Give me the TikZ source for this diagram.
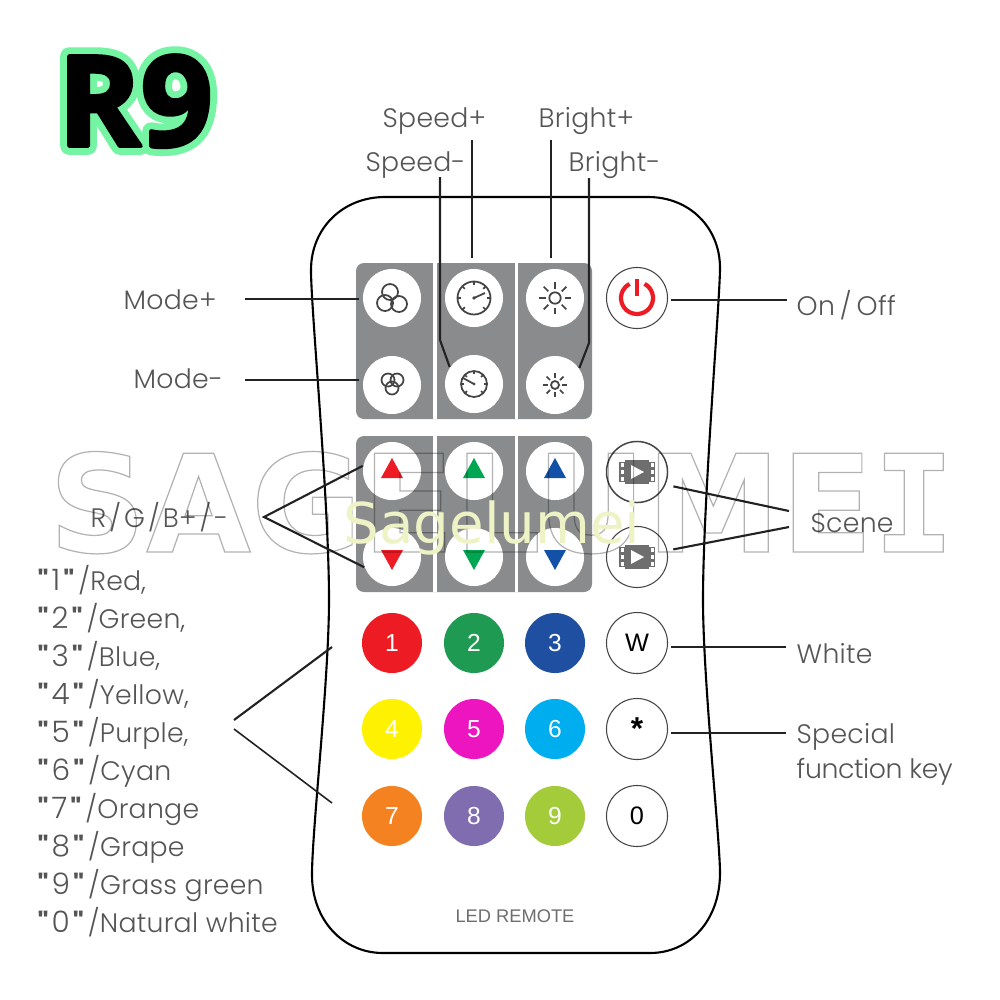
\documentclass[tikz,border=0pt]{standalone}
\usepackage{fontspec}
\setmainfont{Liberation Sans}
\newfontfamily\lblfont[LetterSpace=1]{Poppins Light}
\newfontfamily\quotefont{Poppins}
\newfontfamily\bigfont{Open Sans}
\newfontfamily\markfont{DejaVu Sans}
\newfontfamily\markmono{DejaVu Sans Mono}
\usetikzlibrary{calc}

\definecolor{panelgray}{HTML}{8A8B8D}
\definecolor{lblgray}{HTML}{555555}
\definecolor{wirecol}{HTML}{222222}
\definecolor{redkey}{HTML}{ED1C24}
\definecolor{greenkey}{HTML}{1F9A52}
\definecolor{bluekey}{HTML}{1E4FA0}
\definecolor{yellowkey}{HTML}{FFF200}
\definecolor{pinkkey}{HTML}{EC15C0}
\definecolor{cyankey}{HTML}{00ADEF}
\definecolor{orangekey}{HTML}{F58220}
\definecolor{purplekey}{HTML}{7F6DB0}
\definecolor{grasskey}{HTML}{A4CC3A}
\definecolor{trigreen}{HTML}{00A651}
\definecolor{triblue}{HTML}{1350A8}
\definecolor{iconcol}{HTML}{444444}
\definecolor{filmcol}{HTML}{6E6E6E}
\definecolor{sagecol}{HTML}{EEF3C6}

\newcommand{\strokedtext}[2]{\special{pdf:code #1}#2\special{pdf:code 0 Tr}}
\newcommand{\qkey}[2]{{\quotefont\bfseries"}\kern0.03cm{\fontsize{8.4}{10.81}\selectfont #1}\kern0.03cm{\quotefont\bfseries"}\kern0.04cm/#2}
\newcommand{\slashgap}{\kern0.03cm/\kern0.03cm}

\tikzset{
  btn/.style={circle, fill=white, inner sep=0pt, minimum size=0.58cm},
  ringbtn/.style={circle, fill=white, draw=iconcol, line width=0.3pt, inner sep=0pt, minimum size=0.61cm},
  numbtn/.style={circle, inner sep=0pt, minimum size=0.6cm, text=white, font=\fontsize{7}{8}\selectfont},
  wire/.style={draw=wirecol, line width=0.6pt},
  lbl/.style={anchor=base west, inner sep=0pt, text=lblgray, font=\lblfont\fontsize{7.6}{10.81}\selectfont},
  iconline/.style={draw=iconcol, line width=0.5pt},
}

\begin{document}
\begin{tikzpicture}[x=0.01cm, y=-0.01cm]
  \useasboundingbox (0,0) rectangle (1000,1000);
  \fill[white] (0,0) rectangle (1000,1000);

  % remote body
  \draw[black, line width=0.6pt] (385,197) -- (648,197)
    .. controls (690,197) and (720,228) .. (720,268)
    .. controls (720,300) and (703,500) .. (703,600)
    .. controls (703,680) and (720,840) .. (720,873)
    .. controls (720,920) and (690,953) .. (650,953) -- (383,953)
    .. controls (343,953) and (312,920) .. (312,875)
    .. controls (312,830) and (329,680) .. (329,600)
    .. controls (329,500) and (311,310) .. (311,270)
    .. controls (311,228) and (343,197) .. (385,197) -- cycle;

  % gray panels
  \foreach \ya/\yb in {263/419, 436/592} {
    \fill[panelgray, rounded corners=0.08cm] (356,\ya) rectangle (592,\yb);
    \fill[white] (433,\ya) rectangle (436.5,\yb);
    \fill[white] (514.5,\ya) rectangle (518,\yb);
  }

  \node[btn] (modeup) at (392,298) {};
  \node[btn] (speedup) at (474,298) {};
  \node[btn] (brightup) at (555,298) {};
  \node[btn] (modedown) at (392,385) {};
  \node[btn] (speeddown) at (474,384) {};
  \node[btn] (brightdown) at (555,385) {};
  \node[ringbtn] (power) at (637,298) {};
  \node[btn] (redup) at (392,471) {};
  \node[btn] (greenup) at (474,471) {};
  \node[btn] (blueup) at (555,471) {};
  \node[btn] (reddown) at (392,557) {};
  \node[btn] (greendown) at (474,557) {};
  \node[btn] (bluedown) at (555,557) {};
  \node[ringbtn, line width=0.42pt] (sceneup) at (637,472) {};
  \node[ringbtn] (scenedown) at (637,557) {};

  % number keys
  \foreach \nm/\cx/\cy/\col in {1/392/643/redkey, 2/474/643/greenkey, 3/555/643/bluekey,
      4/392/729/yellowkey, 5/474/729/pinkkey, 6/555/729/cyankey,
      7/392/816/orangekey, 8/474/816/purplekey, 9/555/816/grasskey}
    \node[numbtn, fill=\col] (key\nm) at (\cx,\cy) {\nm};
  \node[ringbtn, text=black, font=\fontsize{7.2}{8}\selectfont] (keyw) at (637,643) {W};
  \node[ringbtn, text=black, font=\bfseries\fontsize{9}{8}\selectfont] (keystar) at (637,729) {\raisebox{-0.06cm}{*}};
  \node[ringbtn, text=black, font=\fontsize{7.2}{8}\selectfont] (key0) at (637,816) {0};

  % mode icons
  \foreach \cx/\cy in {390/292, 385/303, 399/304}
    \draw[iconline] (\cx,\cy) circle[radius=8];
  \foreach \cx/\cy in {388/380, 397/380, 392/388}
    \draw[iconline] (\cx,\cy) circle[radius=6.5];

  % gauges
  \draw[iconline] (474,298) circle[radius=16.5];
  \foreach \a in {-135,-90,-45,0,45,135,180}
    \draw[iconline] ($(474,298)+(\a:13)$) -- ($(474,298)+(\a:16.5)$);
  \draw[iconline] (474,298) -- (485,293);
  \fill[iconcol] (474,298) circle[radius=1.8];
  \draw[iconline] (474,384) circle[radius=13];
  \foreach \a in {-135,-90,-45,0,45,135,180}
    \draw[iconline] ($(474,384)+(\a:10)$) -- ($(474,384)+(\a:13)$);
  \draw[iconline] (474,384) -- (463,378);
  \fill[iconcol] (474,384) circle[radius=1.5];

  % suns
  \draw[iconline] (555,298) circle[radius=5.7];
  \foreach \a in {0,45,...,315}
    \draw[iconline] ($(555,298)+(\a:9.5)$) -- ($(555,298)+(\a:16)$);
  \draw[iconline] (555,385) circle[radius=4];
  \foreach \a in {0,45,...,315}
    \draw[iconline] ($(555,385)+(\a:7)$) -- ($(555,385)+(\a:12)$);

  % power symbol
  \draw[redkey, line width=1.2pt] ($(637,298)+(-62:16)$) arc[start angle=-62, end angle=242, radius=16];
  \draw[redkey, line width=1.2pt] (637,279) -- (637,296);

  % triangles
  \foreach \cx/\col in {392/redkey, 474/trigreen, 555/triblue} {
    \fill[\col] (\cx,458) -- (\cx+11,478) -- (\cx-11,478) -- cycle;
    \fill[\col] (\cx,570) -- (\cx+11,550) -- (\cx-11,550) -- cycle;
  }

  % film icons
  \foreach \cy in {472,557} {
    \fill[filmcol] (625,\cy-12) rectangle (649,\cy+12);
    \fill[filmcol] (619,\cy-10) rectangle (655,\cy+10);
    \foreach \k in {-7,0,7} {
      \fill[white] (620.5,\cy+\k-2) rectangle (623.5,\cy+\k+2);
      \fill[white] (650.5,\cy+\k-2) rectangle (653.5,\cy+\k+2);
    }
    \fill[white] (631,\cy-7) -- (644,\cy) -- (631,\cy+7) -- cycle;
  }

  \coordinate (modeupend) at (245,299);
  \coordinate (modedownend) at (245,380);
  \coordinate (speedupend) at (472,140);
  \coordinate (speeddownend) at (440,177);
  \coordinate (speedbend) at (440,340);
  \coordinate (brightupend) at (551,140);
  \coordinate (brightdownend) at (589,178);
  \coordinate (brightbend) at (589,343);
  \coordinate (powerend) at (787,300);
  \coordinate (rgbapex) at (264,517);
  \coordinate (sceneupend) at (789,511);
  \coordinate (scenedownend) at (789,527);
  \coordinate (whiteend) at (786,647);
  \coordinate (starend) at (786,733);
  \coordinate (fanup) at (234,720);
  \coordinate (fandown) at (234,729);
  \coordinate (fanupend) at (332,647);
  \coordinate (fandownend) at (332,803);

  % connectors
  \draw[wire, shorten >=0.03cm] (modeupend) -- (modeup.west |- modeupend);
  \draw[wire, shorten >=0.03cm] (modedownend) -- (modedown.west |- modedownend);
  \draw[wire, shorten >=0.10cm] (speedupend) -- (speedupend |- speedup.north);
  \draw[wire] (speeddownend) -- (speedbend) -- (speeddown.145);
  \draw[wire, shorten >=0.10cm] (brightupend) -- (brightupend |- brightup.north);
  \draw[wire] (brightdownend) -- (brightbend) -- (brightdown.35);
  \draw[wire, shorten <=0.03cm] (power.east |- powerend) -- (powerend);
  \draw[wire] (redup.170) -- (rgbapex) -- (reddown.-160);
  \draw[wire, shorten <=0.08cm] (sceneup.-24) -- (sceneupend);
  \draw[wire, shorten <=0.06cm] (scenedown.12) -- (scenedownend);
  \draw[wire, shorten <=0.03cm] (keyw.east |- whiteend) -- (whiteend);
  \draw[wire, shorten <=0.03cm] (keystar.east |- starend) -- (starend);
  \draw[wire] (fanup) -- (fanupend);
  \draw[wire, line width=0.45pt] (fandown) -- (fandownend);

  % labels
  \node[lbl] (speedupl) at (382,127) {Speed+};
  \node[lbl] (speeddownl) at (365,171) {Speed-};
  \node[lbl] (brightupl) at (538,127) {Bright+};
  \node[lbl] (brightdownl) at (568,171) {Bright-};
  \node[lbl] (modeupl) at (123,309) {Mode+};
  \node[lbl] (modedownl) at (133,388) {Mode-};
  \node[lbl] (powerl) at (796,315) {On\kern0.05cm/\kern0.05cm Off};
  \node[lbl] (rgbl) at (90,527) {R\slashgap G\slashgap B+\slashgap -};
  \node[lbl] (scenel) at (810,532) {Scene};
  \node[lbl] (whitel) at (796,663) {White};
  \node[lbl] (speciall) at (796,743) {Special};
  \node[lbl] (functionl) at (796,778) {\addfontfeature{LetterSpace=-1.5}function key};
  \node[lbl, anchor=north west, align=left] (colorlist) at (37,565)
    {\qkey{1}{Red,}\\\qkey{2}{Green,}\\\qkey{3}{Blue,}\\\qkey{4}{Yellow,}\\\qkey{5}{Purple,}\\\qkey{6}{Cyan}\\\qkey{7}{Orange}\\\qkey{8}{Grape}\\\qkey{9}{Grass green}\\\qkey{0}{Natural white}};
  \node[anchor=base, inner sep=0pt, text=filmcol, font=\fontsize{5.2}{6}\selectfont] (ledl) at (515,922) {LED REMOTE};

  % watermark
  \begin{scope}[draw opacity=0.3]
    \node[anchor=base west, inner sep=0pt, font=\markfont\bfseries\fontsize{38.5}{40}\selectfont] (outlinemark) at (48,552)
      {\strokedtext{1 Tr 0.35 w 0 G}{SAGELUME{\markmono I}}};
  \end{scope}
  \node[anchor=base west, inner sep=0pt, text=sagecol, font=\markfont\fontsize{16}{18}\selectfont] (sagemark) at (343,543) {Sagelumei};

  % big title
  \node[anchor=base west, inner sep=0pt, font=\bigfont\bfseries\fontsize{35.8}{40}\selectfont] (titleglow) at (57,146)
    {\strokedtext{2 Tr 1 j 1 J 5 w 0.46 0.96 0.64 RG 0.46 0.96 0.64 rg}{R9}};
  \node[anchor=base west, inner sep=0pt, font=\bigfont\bfseries\fontsize{35.8}{40}\selectfont] (title) at (titleglow.base west)
    {\strokedtext{2 Tr 1 j 1 J 1.1 w 0 G 0 g}{R9}};
\end{tikzpicture}
\end{document}
